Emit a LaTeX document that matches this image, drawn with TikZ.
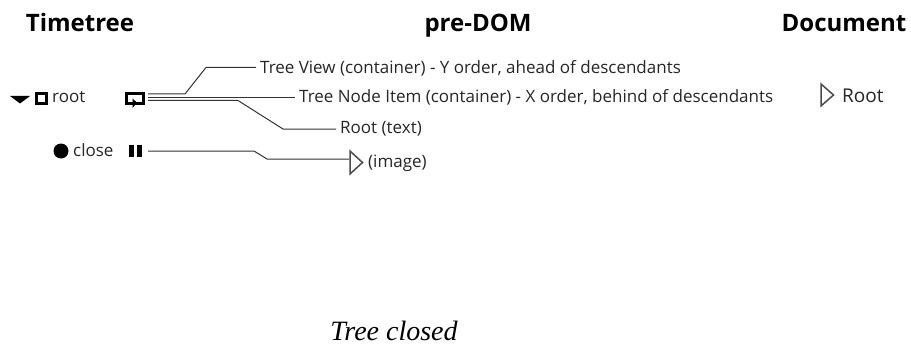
\documentclass[tikz,border=0pt]{standalone}
\usepackage{fontspec}
\setmainfont{Open Sans}
\newfontfamily\serifit{Liberation Serif}
\tikzset{
 lab/.style={anchor=west,inner sep=0pt,font=\fontsize{17}{19}\selectfont,text=black!85},
 title/.style={anchor=base,inner sep=0pt,font=\fontsize{24}{26}\selectfont\bfseries},
 conn/.style={line width=1pt,draw=black!80},
 tri/.style={draw=black!70,line width=1.5pt,fill=white,line join=miter},
}
\begin{document}
\begin{tikzpicture}[x=1pt,y=-1pt]
\useasboundingbox (0,0) rectangle (911,345);
% titles
\node[title] (t1) at (80,32) {Timetree};
\node[title] (t2) at (478,32) {pre-DOM};
\node[title] (t3) at (844,32) {Document};
% left column
\fill (10,96) -- (30,96) -- (20,103.5) -- cycle;
\node[draw=black,line width=2.6pt,minimum size=10pt,inner sep=0pt] (sq) at (41.5,98.5) {};
\node[lab] (root) at (52,96.5) {root};
\fill (61,151) circle (7.5);
\node[lab] (close) at (73,150.5) {close};
% comment icon
\node[draw=black,line width=2.6pt,minimum width=17pt,minimum height=10pt,inner sep=0pt,fill=white] (cm) at (135,98.5) {};
\fill (132.5,98.5) -- (138.5,104) -- (136,104) -- (132.5,108) -- cycle;
% pause icon
\node[minimum width=14pt,minimum height=12pt,inner sep=0pt] (pa) at (135.5,151) {};
\fill (129,145) rectangle (134,157);
\fill (137,145) rectangle (142,157);
% labels
\node[lab] (tv) at (260,68) {Tree View (container) - Y order, ahead of descendants};
\node[lab] (tn) at (299,97) {Tree Node Item (container) - X order, behind of descendants};
\node[lab] (rt) at (340,129) {Root (text)};
\node[lab] (im) at (368,163) {(image)};
\draw[tri] (350,151) -- (362.5,162.5) -- (350,174) -- cycle;
\coordinate (imtri) at (349,159);
% document
\draw[tri] (821,84) -- (833.5,95) -- (821,106) -- cycle;
\node[lab,font=\fontsize{19}{21}\selectfont] (dr) at (842,95.5) {Root};
% connectors
\coordinate (s1) at (148,94);
\coordinate (s2) at (148,97.5);
\coordinate (s3) at (148,100.5);
\coordinate (s4) at (148,151);
\draw[conn] (s1) -- (185,94) -- (206,67.5) -- ([xshift=-4pt]tv.west |- 0,67.5);
\draw[conn] (s2) -- ([xshift=-4pt]tn.west |- 0,97.5);
\draw[conn] (s3) -- (238,100.5) -- (283,129) -- ([xshift=-4pt]rt.west |- 0,129);
\draw[conn] (s4) -- (254,151) -- (267,159) -- (imtri);
% caption
\node[inner sep=0pt,font=\fontsize{28}{30}\selectfont\serifit\itshape] (cap) at (394,330.5) {Tree closed};
\end{tikzpicture}
\end{document}
